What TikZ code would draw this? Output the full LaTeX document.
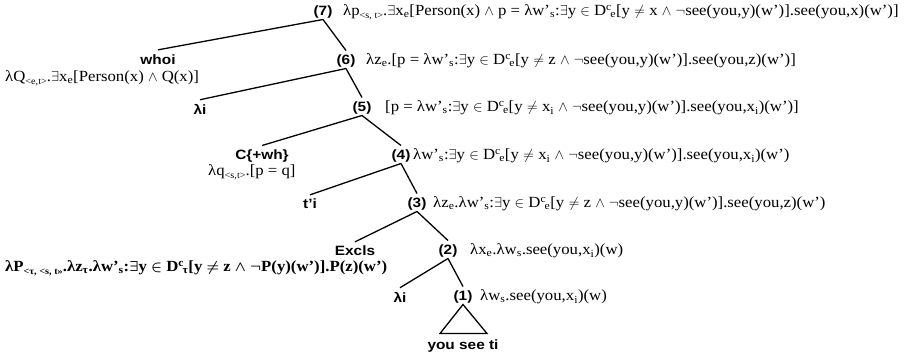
\documentclass[tikz,border=0pt]{standalone}
\usepackage{fontspec}
\setmainfont{Liberation Serif}[FakeStretch=1.08]
\setsansfont{Liberation Sans}[FakeStretch=1.14]
\usetikzlibrary{calc}
\newcommand{\sbs}[1]{\textsubscript{#1}}
\newcommand{\tsb}[1]{\raisebox{-0.4ex}{\fontsize{9.5}{10}\selectfont #1}}
\newcommand{\Dce}{D\textsuperscript{c}\kern-0.1em\sbs{e}}

\begin{document}
\begin{tikzpicture}[x=1pt, y=-1pt,
  lbl/.style={font=\sffamily\bfseries\fontsize{13.5}{16}\selectfont, inner sep=1pt},
  sem/.style={anchor=west, inner sep=0pt, font=\fontsize{15.5}{18}\selectfont},
  edge/.style={line width=1.3pt}
]
\useasboundingbox (0,0) rectangle (910,359);
% labels of the tree
\node[lbl] (t7) at (323,12) {(7)};
\node[lbl] (who) at (158,60) {whoi};
\node[lbl] (t6) at (346,61) {(6)};
\node[lbl] (lam1) at (200,109) {λi};
\node[lbl] (t5) at (362,108) {(5)};
\node[lbl] (cwh) at (262,156) {C\{+wh\}};
\node[lbl] (t4) at (401,156) {(4)};
\node[lbl] (tr) at (310,204) {t’i};
\node[lbl] (t3) at (417,204) {(3)};
\node[lbl] (exc) at (355,251) {Excls};
\node[lbl] (t2) at (448,251) {(2)};
\node[lbl] (lam2) at (400,297) {λi};
\node[lbl] (t1) at (463,297) {(1)};
\node[lbl] (yst) at (463,346) {you see ti};
% denotations
\node[sem] (s7) at (343,12) {λp\tsb{<s, t>}.$\exists$x\sbs{e}[Person(x) $\wedge$ p = λw’\sbs{s}:$\exists$y $\in$ \Dce[y $\neq$ x $\wedge$ $\neg$see(you,y)(w’)].see(you,x)(w’)]};
\node[sem] (sw) at (5,78) {λQ\tsb{<e,t>}.$\exists$x\sbs{e}[Person(x) $\wedge$ Q(x)]};
\node[sem] (s6) at (366,61) {λz\sbs{e}.[p = λw’\sbs{s}:$\exists$y $\in$ \Dce[y $\neq$ z $\wedge$ $\neg$see(you,y)(w’)].see(you,z)(w’)]};
\node[sem] (s5) at (385,108) {[p = λw’\sbs{s}:$\exists$y $\in$ \Dce[y $\neq$ x\sbs{i} $\wedge$ $\neg$see(you,y)(w’)].see(you,x\sbs{i})(w’)]};
\node[sem] (sc) at (208,172) {λq\tsb{<s,t>}.[p = q]};
\node[sem] (s4) at (413,156) {λw’\sbs{s}:$\exists$y $\in$ \Dce[y $\neq$ x\sbs{i} $\wedge$ $\neg$see(you,y)(w’)].see(you,x\sbs{i})(w’)};
\node[sem] (s3) at (433,204) {λz\sbs{e}.λw’\sbs{s}:$\exists$y $\in$ \Dce[y $\neq$ z $\wedge$ $\neg$see(you,y)(w’)].see(you,z)(w’)};
\node[sem, font=\fontsize{15.5}{18}\selectfont\bfseries\boldmath] (se) at (5,268) {λP\tsb{<τ, <s, t>>}.λz\sbs{τ}.λw’\sbs{s}:$\exists$y $\in$ D\textsuperscript{c}\kern-0.1em\sbs{τ}[y $\neq$ z $\wedge$ $\neg$P(y)(w’)].P(z)(w’)};
\node[sem] (s2) at (470,251) {λx\sbs{e}.λw\sbs{s}.see(you,x\sbs{i})(w)};
\node[sem] (s1) at (480,297) {λw\sbs{s}.see(you,x\sbs{i})(w)};
% branches
\draw[edge] (t7.south) -- ([yshift=4pt]who.north);
\draw[edge] (t7.south) -- ([yshift=3pt]t6.north);
\draw[edge] (t6.south) -- ([yshift=3pt]lam1.north);
\draw[edge] (t6.south) -- ([yshift=3pt]t5.north);
\draw[edge] (t5.south) -- ([yshift=3pt]cwh.north);
\draw[edge] (t5.south) -- ([yshift=3pt]t4.north);
\draw[edge] (t4.south) -- ([yshift=3pt]tr.north);
\draw[edge] (t4.south) -- ([yshift=3pt]t3.north);
\draw[edge] (t3.south) -- ([yshift=3pt]exc.north);
\draw[edge] (t3.south) -- ([yshift=3pt]t2.north);
\draw[edge] (t2.south) -- ([yshift=3pt]lam2.north);
\draw[edge] (t2.south) -- ([yshift=3pt]t1.north);
\draw[edge, line join=miter] (t1.south) -- ($(yst.north)+(-23,-5)$) -- ($(yst.north)+(24,-5)$) -- cycle;
\end{tikzpicture}
\end{document}
